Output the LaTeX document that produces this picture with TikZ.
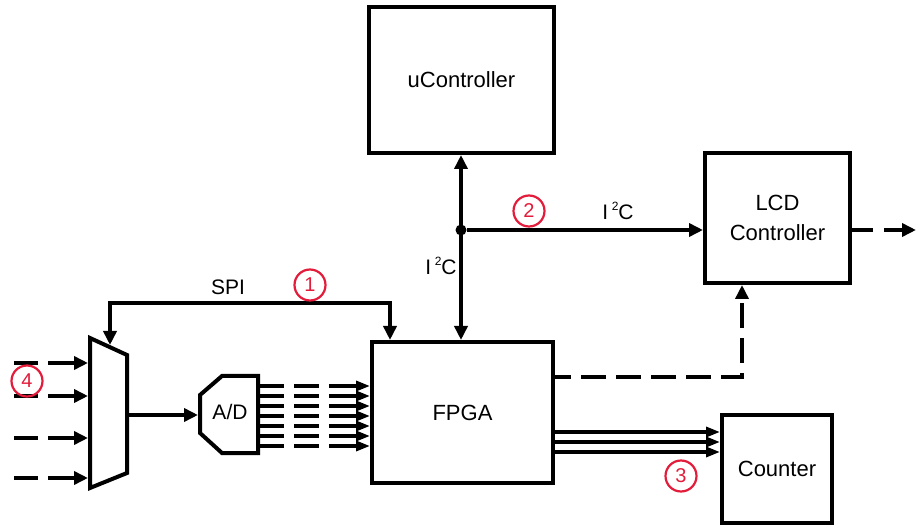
\documentclass[tikz,border=0pt]{standalone}
\usepackage{fontspec}
\setmainfont{Liberation Sans}
\usetikzlibrary{arrows.meta}

\definecolor{tagred}{RGB}{226,28,58}

\tikzset{
  block/.style={draw, line width=4pt, align=center,
    font=\fontsize{22}{30}\selectfont},
  wire/.style={line width=4pt, -{Triangle[length=14pt,width=13pt]}},
  bus/.style={line width=3.2pt, -{Triangle[length=14pt,width=10pt]}},
  dashwire/.style={wire, dash pattern=on 25pt off 10pt, dash phase=9pt},
  tag/.style={circle, draw=tagred, line width=2.2pt, text=tagred,
    inner sep=0pt, minimum size=31pt, font=\fontsize{20}{20}\selectfont},
  lbl/.style={font=\fontsize{21}{21}\selectfont}
}

\newcommand{\iic}{I\,\raisebox{0.45em}{\fontsize{12}{12}\selectfont 2}C}

\begin{document}
\begin{tikzpicture}[x=1pt,y=-1pt]
  \useasboundingbox (0,0) rectangle (916,529);

  % blocks
  \node[block, minimum width=185pt, minimum height=146pt] (ucon) at (461.5,80) {uController};
  \node[block, minimum width=145pt, minimum height=130pt] (lcd) at (777.5,218) {LCD\\Controller};
  \node[block, minimum width=181pt, minimum height=141pt] (fpga) at (462.5,412.5) {FPGA};
  \node[block, minimum width=110pt, minimum height=108pt] (counter) at (777,469) {Counter};

  % multiplexer
  \draw[line width=4pt, line join=miter]
      (90,338) -- (127,355) -- (127,473) -- (90,488) -- cycle;
  \coordinate (mux-top) at (110,345);
  \coordinate (mux-out) at (127,415);

  % A/D converter
  \draw[line width=4pt, line join=miter]
      (258,376) -- (222,376) -- (200,395) -- (200,433) -- (222,453) -- (258,453) -- cycle;
  \node[lbl] (ad) at (230,412) {A/D};
  \coordinate (ad-in) at (198,415);
  \coordinate (ad-out) at (258,415);

  % mux inputs
  \foreach \y [count=\i] in {363,396,438,478} {
    \coordinate (in\i) at (14,\y);
    \draw[wire, dash pattern=on 24pt off 10pt on 100pt off 0pt]
        (in\i) -- (88,\y);
  }
  \draw[wire] (mux-out) -- (ad-in);

  % A/D outputs
  \foreach \y [count=\i] in {386,396,...,446} {
    \coordinate (ad\i) at (258,\y);
    \draw[bus, dash pattern=on 26pt off 10pt on 25pt off 10pt on 100pt off 0pt]
        (ad\i) -- (fpga.west |- ad\i);
  }

  % SPI
  \coordinate (spi) at (390,303);
  \draw[wire, {Triangle[length=14pt,width=13pt]}-{Triangle[length=14pt,width=13pt]}]
      (mux-top) |- (spi) -- (fpga.north -| spi);
  \node[lbl] (spi-lbl) at (228,287) {SPI};

  % I2C bus
  \node[circle, fill, inner sep=0pt, minimum size=11pt] (jn) at (461,230) {};
  \draw[wire, {Triangle[length=14pt,width=13pt]}-{Triangle[length=14pt,width=13pt]}]
      (ucon.south -| jn) -- (fpga.north -| jn);
  \draw[wire] (jn) -- (lcd.west |- jn);
  \node[lbl] (iic-v) at (441,266) {\iic};
  \node[lbl] (iic-h) at (618,211) {\iic};

  % FPGA to LCD and display output
  \coordinate (bend) at (742,377);
  \draw[dashwire] (fpga.east |- bend) -- (bend) -- (lcd.south -| bend);
  \coordinate (disp) at (916,230);
  \draw[wire, dash pattern=on 21pt off 11pt on 100pt off 0pt]
      (lcd.east |- disp) -- (disp);

  % FPGA to counter
  \foreach \y [count=\i] in {432,442,452} {
    \coordinate (cnt\i) at (600,\y);
    \draw[bus] (fpga.east |- cnt\i) -- (counter.west |- cnt\i);
  }

  % numbered tags
  \node[tag] (t1) at (310,285) {1};
  \node[tag] (t2) at (529,211) {2};
  \node[tag] (t3) at (681,476) {3};
  \node[tag] (t4) at (27,381) {4};
\end{tikzpicture}
\end{document}
